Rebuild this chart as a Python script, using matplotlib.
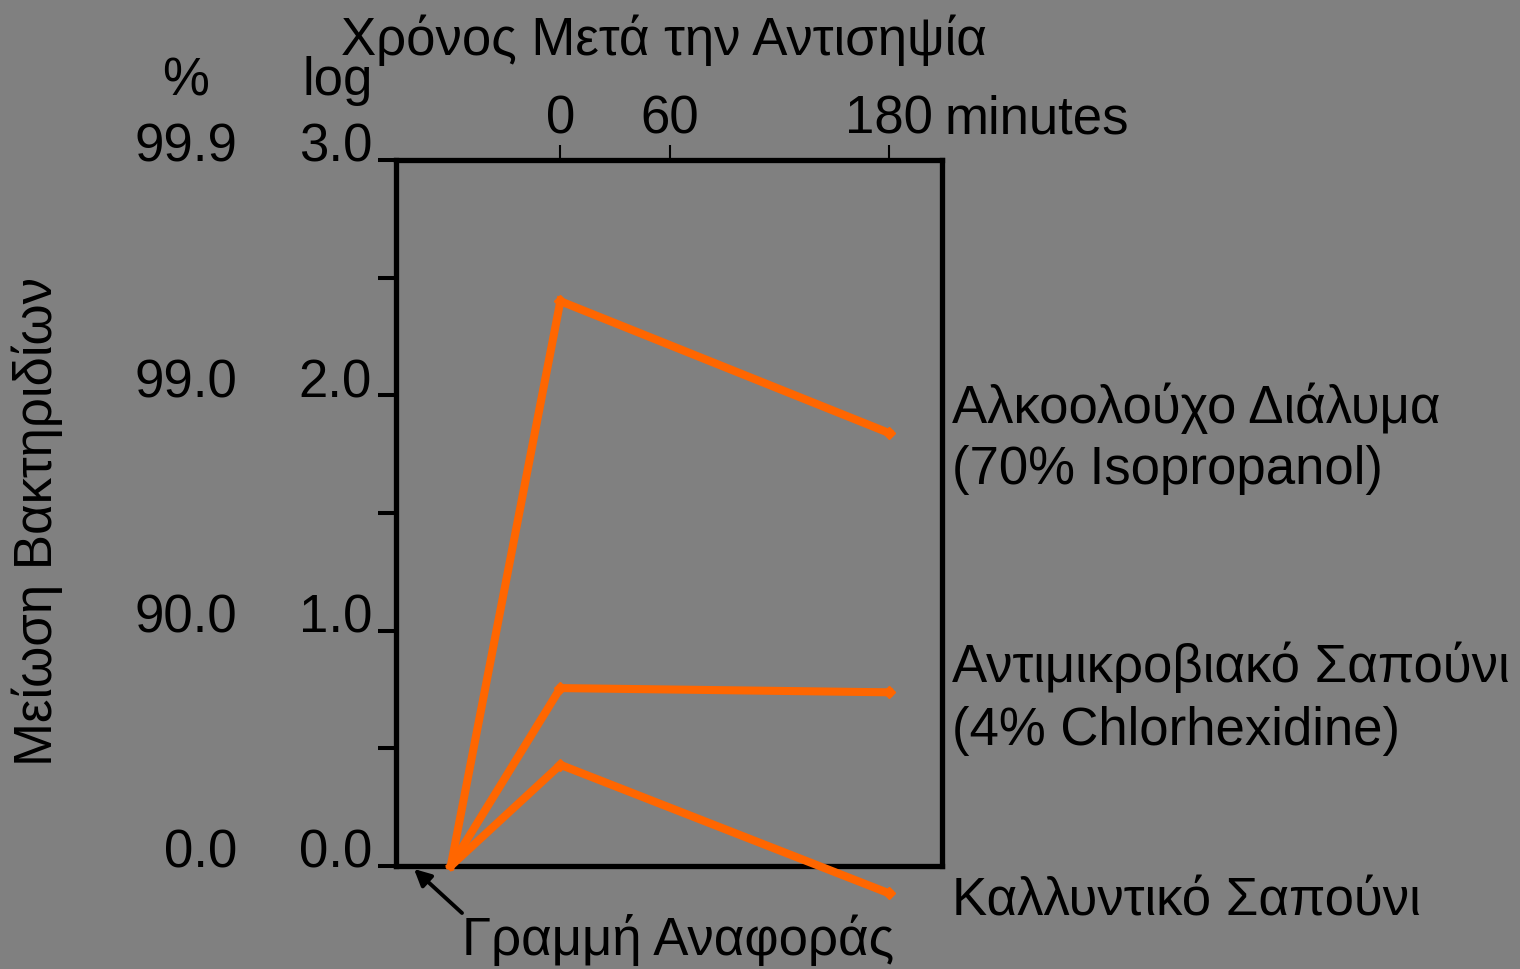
import matplotlib
matplotlib.use('Agg')
import matplotlib.pyplot as plt
import matplotlib.transforms as mtransforms

plt.rcParams['font.family'] = ['Liberation Sans', 'DejaVu Sans']

# data (minutes after antisepsis, log reduction)
baseline_x = -60
times = [0, 180]
alcohol = [2.40, 1.84]
chlorhex = [0.756, 0.738]
soap = [0.43, -0.116]

log_ticks = [0.0, 0.5, 1.0, 1.5, 2.0, 2.5, 3.0]
log_labels = {0.0: "0.0", 1.0: "1.0", 2.0: "2.0", 3.0: "3.0"}
pct_labels = {0.0: "0.0", 1.0: "90.0", 2.0: "99.0", 3.0: "99.9"}
time_ticks = [0, 60, 180]

W, H = 1520, 969
BG = "#808080"
ORANGE = "#FF6600"
FS = 38

fig = plt.figure(figsize=(W / 100, H / 100), dpi=100, facecolor=BG)
ax = fig.add_axes([396 / W, 1 - 866 / H, (942 - 396) / W, (866 - 160) / H])
ax.set_facecolor(BG)
ax.set_xlim(-90, 209)
ax.set_ylim(0, 3)

for s in ax.spines.values():
    s.set_linewidth(3.8)
    s.set_color("black")

ax.set_yticks(log_ticks)
ax.set_yticklabels([])
ax.tick_params(axis="y", direction="out", length=13, width=2.9, color="black")
ax.xaxis.tick_top()
ax.set_xticks(time_ticks)
ax.set_xticklabels([])
ax.tick_params(axis="x", direction="out", length=11, width=1.5, color="black")

for series in (alcohol, chlorhex, soap):
    ax.plot([baseline_x] + times, [0] + series, color=ORANGE, lw=5.8,
            solid_joinstyle="miter", clip_on=False, zorder=3)
    ax.plot(times, series, ls="none", marker="D", ms=6, color=ORANGE,
            clip_on=False, zorder=4)

# y labels (log and percent columns)
trans_y = mtransforms.blended_transform_factory(fig.transFigure, ax.transData)
trans_y = mtransforms.offset_copy(trans_y, fig=fig, x=0, y=-2, units="dots")
for v, lab in log_labels.items():
    ax.text(372 / W, v, lab, transform=trans_y, ha="right", va="baseline", fontsize=FS)
for v, lab in pct_labels.items():
    ax.text(237 / W, v, lab, transform=trans_y, ha="right", va="baseline", fontsize=FS)

# top time labels
trans_x = mtransforms.blended_transform_factory(ax.transData, fig.transFigure)
for t in time_ticks:
    ax.text(t, 1 - 133 / H, str(t), transform=trans_x, ha="center", va="baseline", fontsize=FS)


def ftext(x, y, s, **kw):
    fig.text(x / W, 1 - y / H, s, fontsize=FS, **kw)


ftext(945, 133, "minutes", ha="left", va="baseline")
ftext(664, 55, "Χρόνος Μετά την Αντισηψία", ha="center", va="baseline")
ftext(186, 95, "%", ha="center", va="baseline")
ftext(338, 95, "log", ha="center", va="baseline")
ftext(37, 521, "Μείωση Βακτηριδίων", ha="center", va="center", rotation=90)

ftext(952, 423, "Αλκοολούχο Διάλυμα", ha="left", va="baseline")
ftext(952, 484, "(70% Isopropanol)", ha="left", va="baseline")
ftext(952, 682, "Αντιμικροβιακό Σαπούνι", ha="left", va="baseline")
ftext(952, 745, "(4% Chlorhexidine)", ha="left", va="baseline")
ftext(952, 915, "Καλλυντικό Σαπούνι", ha="left", va="baseline")
ftext(678, 955, "Γραμμή Αναφοράς", ha="center", va="baseline")

fig.add_artist(matplotlib.patches.FancyArrowPatch(
    (462 / W, 1 - 913 / H), (414 / W, 1 - 869 / H), transform=fig.transFigure,
    arrowstyle="-|>,head_length=10,head_width=5", lw=2.8, color="black",
    shrinkA=0, shrinkB=0))

fig.savefig("out.png", dpi=100, facecolor=BG)
